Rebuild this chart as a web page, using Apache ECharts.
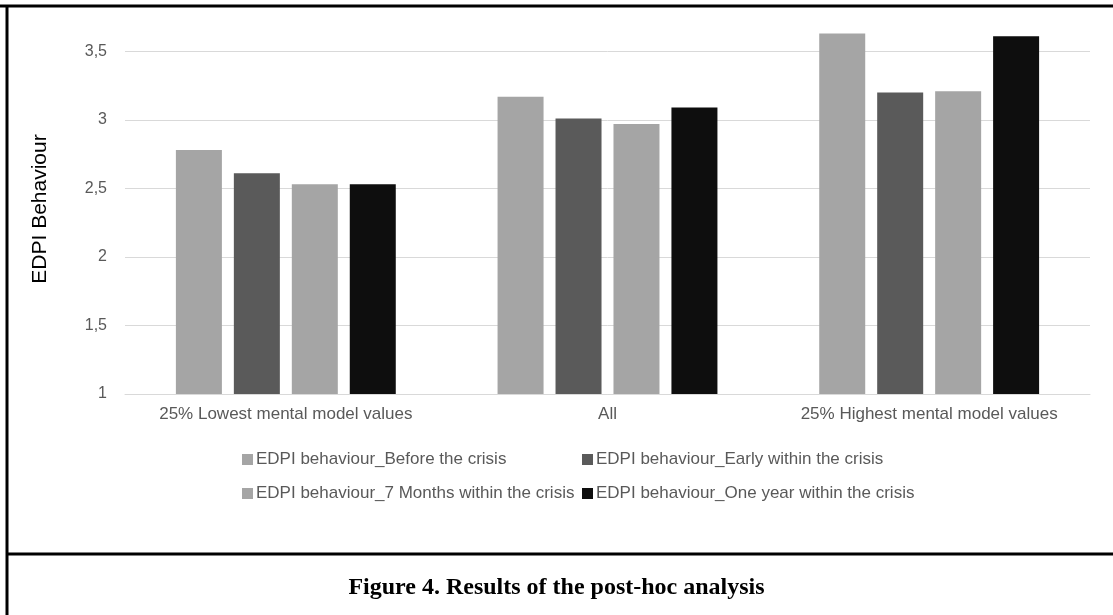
<!DOCTYPE html>
<html>
<head>
<meta charset="utf-8">
<title>Figure 4. Results of the post-hoc analysis</title>
<script src="https://cdn.jsdelivr.net/npm/echarts@6/dist/echarts.min.js"></script>
<style>
  html, body { margin: 0; padding: 0; background: #fff; }
  #chart { width: 1113px; height: 615px; }
</style>
</head>
<body>
<div id="chart"></div>
<script>
// ------------------------------------------------------------------
// data
// ------------------------------------------------------------------
const categories = ['25% Lowest mental model values', 'All', '25% Highest mental model values']
const seriesNames = [
  'EDPI behaviour_Before the crisis',
  'EDPI behaviour_Early within the crisis',
  'EDPI behaviour_7 Months within the crisis',
  'EDPI behaviour_One year within the crisis',
]
const beforeCrisis = [2.78, 3.17, 3.63]
const earlyCrisis = [2.61, 3.01, 3.20]
const sevenMonths = [2.53, 2.97, 3.21]
const oneYear = [2.53, 3.09, 3.61]
const yMin = 1
const yMax = 3.7
const yStep = 0.5

const seriesColors = ['#a5a5a5', '#5a5a5a', '#a5a5a5', '#0e0e0e']
const seriesValues = [beforeCrisis, earlyCrisis, sevenMonths, oneYear]

const labelFont = 'Liberation Sans'
const textGrey = '#595959'
const gridGrey = '#d9d9d9'

// one legend per item, so the two legend rows line up in columns
const legendSpots = [
  { left: 242, top: 451 },
  { left: 582, top: 451 },
  { left: 242, top: 485 },
  { left: 582, top: 485 },
]

const chart = echarts.init(document.getElementById('chart'))

chart.setOption({
  animation: false,
  backgroundColor: '#fff',
  textStyle: { fontFamily: labelFont },
  title: {
    text: 'Figure 4. Results of the post-hoc analysis',
    left: 'center',
    top: 571,
    textStyle: {
      fontFamily: 'Liberation Serif',
      fontWeight: 'bold',
      fontSize: 24,
      color: '#000',
    },
  },
  legend: seriesNames.map((name, i) => ({
    data: [name],
    left: legendSpots[i].left,
    top: legendSpots[i].top,
    itemWidth: 11,
    itemHeight: 11,
    itemGap: 0,
    padding: 0,
    selectedMode: false,
    icon: 'rect',
    textStyle: { color: textGrey, fontSize: 17, fontFamily: labelFont, padding: [0, 0, 0, -2] },
  })),
  grid: {
    left: 125,
    right: 23,
    top: 24,
    bottom: 221,
  },
  xAxis: {
    type: 'category',
    data: categories,
    axisLine: { lineStyle: { color: gridGrey, width: 1 } },
    axisTick: { show: false },
    axisLabel: { color: textGrey, fontSize: 17, margin: 12, interval: 0 },
  },
  yAxis: {
    type: 'value',
    min: yMin,
    max: yMax,
    interval: yStep,
    name: 'EDPI Behaviour',
    nameLocation: 'middle',
    nameGap: 74,
    nameTextStyle: { color: '#000', fontSize: 21, fontFamily: labelFont },
    axisLine: { show: false },
    axisTick: { show: false },
    axisLabel: {
      color: textGrey,
      fontSize: 16,
      margin: 18,
      showMaxLabel: false,
      formatter: (v) => String(v).replace('.', ','),
    },
    splitLine: { showMaxLine: false, lineStyle: { color: gridGrey, width: 1 } },
  },
  series: seriesNames.map((name, i) => ({
    name,
    type: 'bar',
    data: seriesValues[i],
    barWidth: 46,
    barGap: '26%',
    itemStyle: { color: seriesColors[i] },
  })),
  graphic: [
    // frame lines round the figure
    { type: 'line', shape: { x1: 0, y1: 6, x2: 1113, y2: 6 }, style: { stroke: '#000', lineWidth: 3 } },
    { type: 'line', shape: { x1: 7, y1: 5, x2: 7, y2: 615 }, style: { stroke: '#000', lineWidth: 3 } },
    { type: 'line', shape: { x1: 6, y1: 554, x2: 1113, y2: 554 }, style: { stroke: '#000', lineWidth: 3 } },
  ],
})
</script>
</body>
</html>
